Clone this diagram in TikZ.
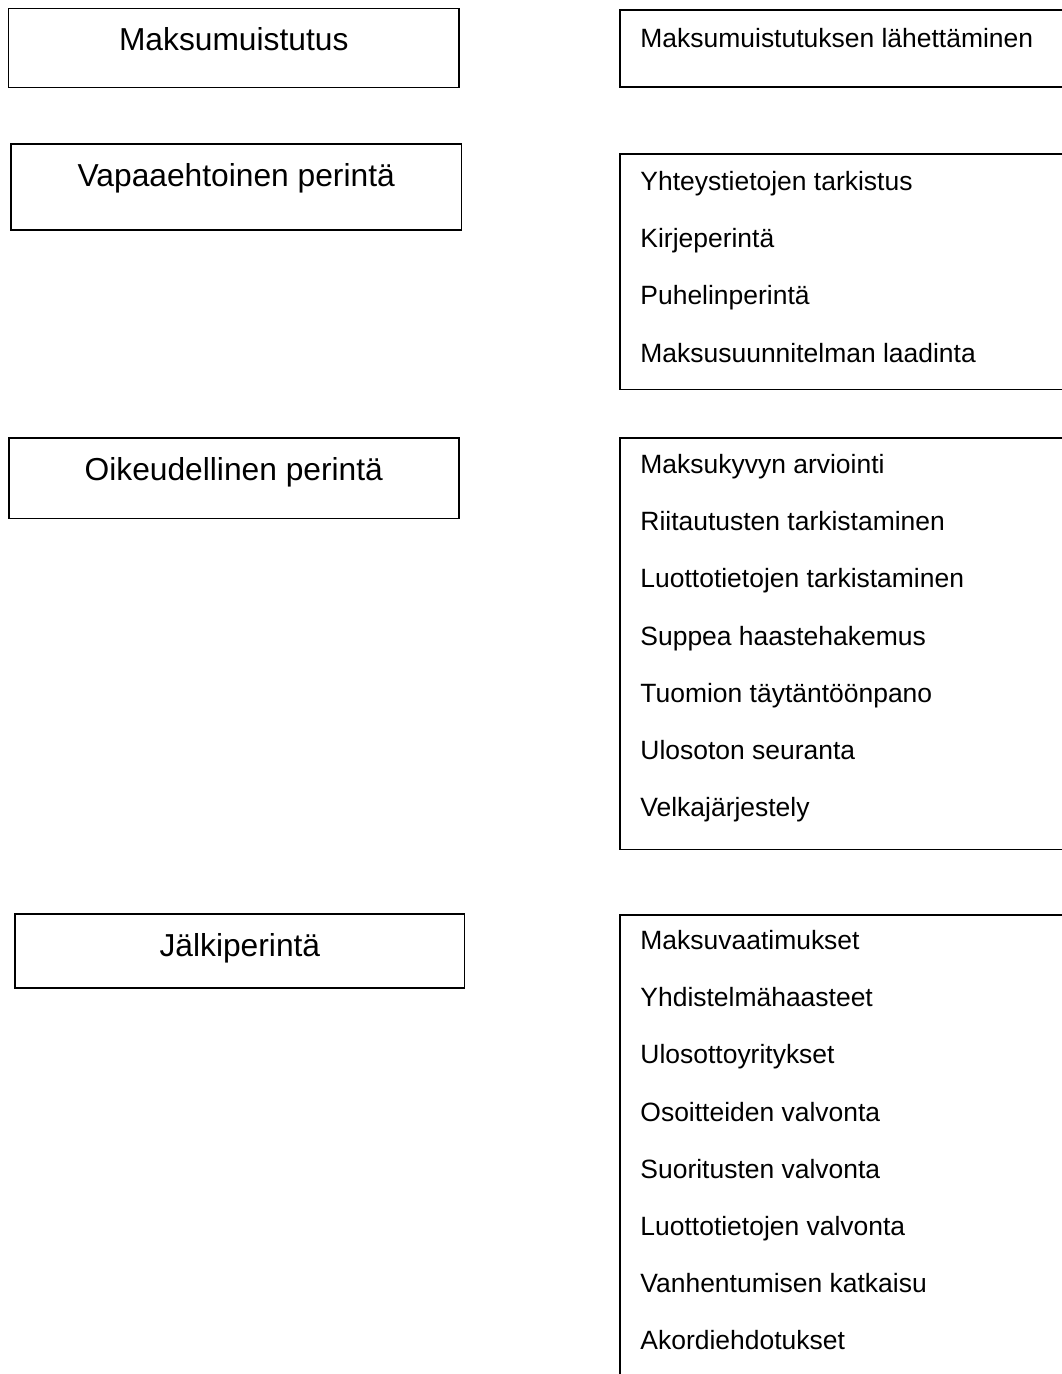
\documentclass[tikz,border=0pt]{standalone}
\usepackage{fontspec}
\setmainfont{Liberation Sans}
\usepackage{tikz}

\begin{document}
\begin{tikzpicture}[
          x=0.4535pt, y=-0.4535pt,
          stage/.style={rectangle, draw, line width=0.7pt, anchor=north west,
                        inner sep=0pt, text height=19.3pt,
                        font=\fontsize{14.4}{17}\selectfont},
          tasks/.style={rectangle, draw, line width=0.7pt, anchor=north west,
                        inner sep=0pt, minimum width=210pt},
          task/.style={anchor=base west, inner sep=0pt,
                       font=\fontsize{12}{14}\selectfont}
        ]
        \clip (0,0) rectangle (1062,1374);

        % perinnan vaiheet
        \node[stage, minimum width=204.5pt, text depth=16.6pt] (muist)  at (7.5, 7.5)
              {Maksumuistutus};
        \node[stage, minimum width=204.5pt, text depth=19.7pt] (vapaa)  at (10, 143.3)
              {Vapaaehtoinen perintä};
        \node[stage, minimum width=204.1pt, text depth=17.1pt] (oikeus) at (8, 437.3)
              {Oikeudellinen perintä};
        \node[stage, minimum width=203.9pt, text depth=14.3pt] (jalki)  at (14.3, 913.3)
              {Jälkiperintä};

        % toimenpiteet
        \node[tasks, minimum height=34.9pt]  (muistT)  at (619, 9) {};
        \node[tasks, minimum height=106.8pt] (vapaaT)  at (619, 153.3) {};
        \node[tasks, minimum height=186.6pt] (oikeusT) at (619, 437.3) {};
        \node[tasks, minimum height=215.9pt] (jalkiT)  at (619, 914) {};

        \node[task] (m1) at (640, 47.5)  {Maksumuistutuksen lähettäminen};

        \node[task] (v1) at (640, 190.5) {Yhteystietojen tarkistus};
        \node[task] (v2) at (640, 247.7) {Kirjeperintä};
        \node[task] (v3) at (640, 304.9) {Puhelinperintä};
        \node[task] (v4) at (640, 362.1) {Maksusuunnitelman laadinta};

        \node[task] (o1) at (640, 473.5) {Maksukyvyn arviointi};
        \node[task] (o2) at (640, 530.7) {Riitautusten tarkistaminen};
        \node[task] (o3) at (640, 587.9) {Luottotietojen tarkistaminen};
        \node[task] (o4) at (640, 645.1) {Suppea haastehakemus};
        \node[task] (o5) at (640, 702.3) {Tuomion täytäntöönpano};
        \node[task] (o6) at (640, 759.5) {Ulosoton seuranta};
        \node[task] (o7) at (640, 816.7) {Velkajärjestely};

        \node[task] (j1) at (640, 949.5)  {Maksuvaatimukset};
        \node[task] (j2) at (640, 1006.7) {Yhdistelmähaasteet};
        \node[task] (j3) at (640, 1063.9) {Ulosottoyritykset};
        \node[task] (j4) at (640, 1121.1) {Osoitteiden valvonta};
        \node[task] (j5) at (640, 1178.3) {Suoritusten valvonta};
        \node[task] (j6) at (640, 1235.5) {Luottotietojen valvonta};
        \node[task] (j7) at (640, 1292.7) {Vanhentumisen katkaisu};
        \node[task] (j8) at (640, 1349.9) {Akordiehdotukset};
      \end{tikzpicture}
\end{document}
